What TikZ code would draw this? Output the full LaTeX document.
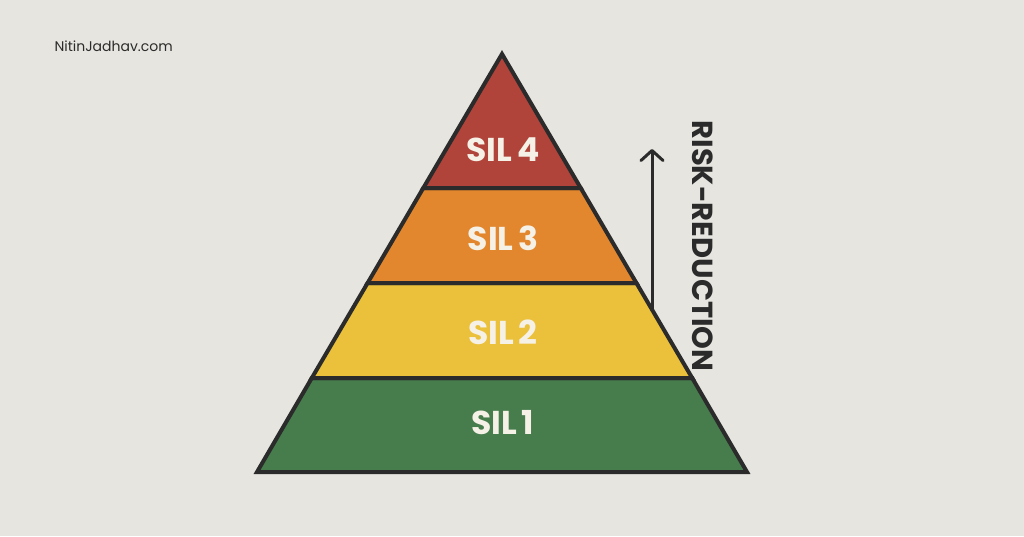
\documentclass[tikz,border=0pt]{standalone}
\usepackage{fontspec}
\setmainfont{Poppins}
\usepackage{tikz}
\usetikzlibrary{arrows.meta}
\definecolor{bgpaper}{HTML}{E6E5E0}
\definecolor{outline}{HTML}{2B2B2B}
\definecolor{silred}{HTML}{B0443A}
\definecolor{silorange}{HTML}{E2872D}
\definecolor{silyellow}{HTML}{EBC13B}
\definecolor{silgreen}{HTML}{477D4D}
\definecolor{labelwhite}{HTML}{F6F1E7}
\newcommand{\silfont}{\fontsize{33}{33}\selectfont\bfseries\spaceskip=0.14em\relax}
\tikzset{
    silband/.style={draw=outline, line width=4pt},
    sillabel/.style={text=labelwhite, font=\silfont},
    risktext/.style={text=outline, font=\fontsize{29}{29}\selectfont\bfseries},
    riskarrow/.style={draw=outline, line width=3pt, line cap=round, -{Straight Barb[length=10pt,width=22pt,round]}}}

\begin{document}
\begin{tikzpicture}[x=1pt, y=-1pt]

            \fill[bgpaper] (0,0) rectangle (1024,536);
            \useasboundingbox (0,0) rectangle (1024,536);

            \coordinate (A) at (502,54);
            \coordinate (L4) at (423.3,188);
            \coordinate (R4) at (580.7,188);
            \coordinate (L3) at (367.6,283);
            \coordinate (R3) at (636.4,283);
            \coordinate (L2) at (311.8,378);
            \coordinate (R2) at (692.2,378);
            \coordinate (L1) at (257,472);
            \coordinate (R1) at (747,472);

            \draw[silband, fill=silgreen] (L2) -- (R2) -- (R1) -- (L1) -- cycle;
            \draw[silband, fill=silyellow] (L3) -- (R3) -- (R2) -- (L2) -- cycle;
            \draw[silband, fill=silorange] (L4) -- (R4) -- (R3) -- (L3) -- cycle;
            \draw[silband, fill=silred] (A) -- (R4) -- (L4) -- cycle;

            \node[sillabel] (sil4) at (503,150) {SIL 4};
            \node[sillabel] (sil3) at (503,238) {SIL 3};
            \node[sillabel] (sil2) at (503,332) {SIL 2};
            \node[sillabel] (sil1) at (503,423) {SIL 1};

            \coordinate (foot) at (652,310);
            \coordinate (tip) at (652,149);
            \draw[riskarrow] (foot) -- (tip);

            \node[risktext, rotate=-90] (risk) at (703,246) {RISK-REDUCTION};

            \node[anchor=west, text=outline, font=\fontsize{14}{14}\selectfont] (site) at (51,46) {NitinJadhav.com};

        \end{tikzpicture}
\end{document}
